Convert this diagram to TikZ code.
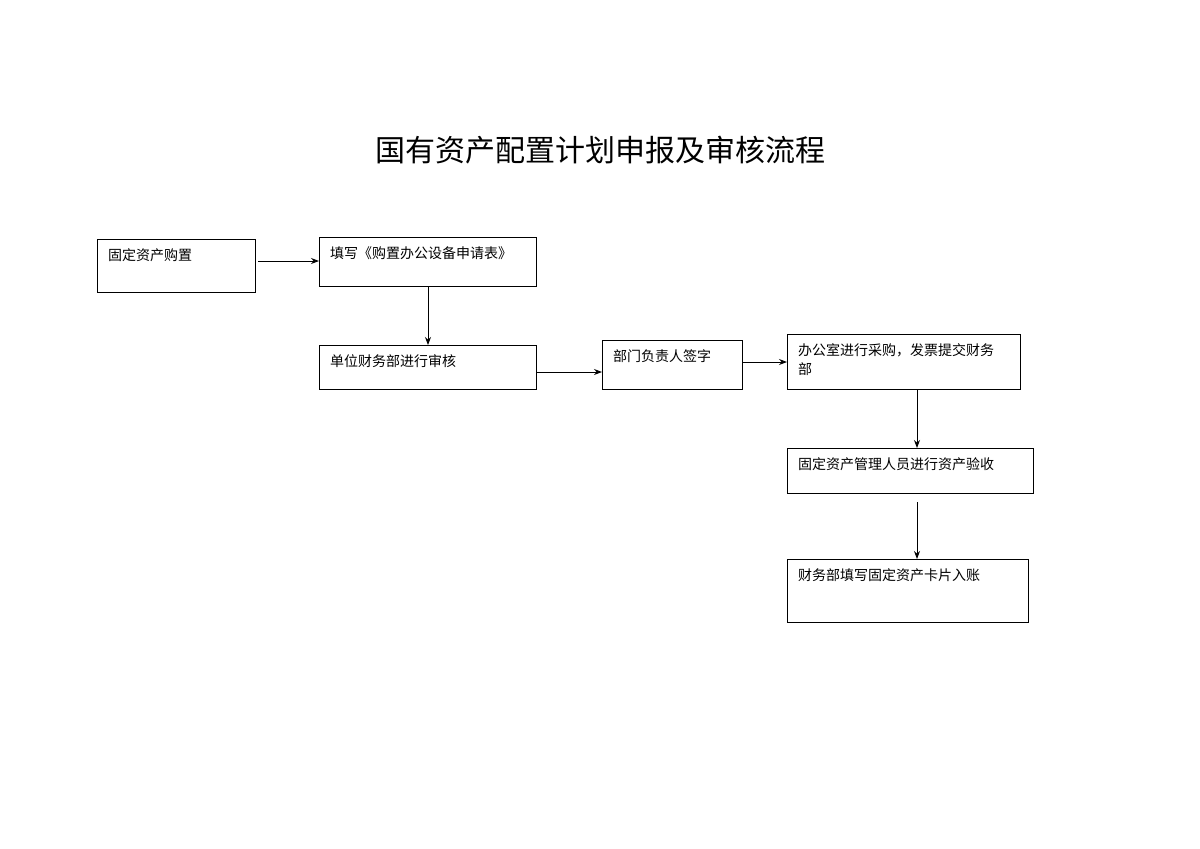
\documentclass[tikz,border=0pt]{standalone}
\usepackage{fontspec}
\setmainfont{Noto Sans CJK SC}
\usetikzlibrary{arrows.meta}
\begin{document}
\begin{tikzpicture}[x=1pt,y=-1pt,
  box/.style={draw,line width=0.9pt,inner sep=0pt,anchor=north west},
  txt/.style={anchor=north west,inner sep=0pt,font=\fontsize{14}{19}\selectfont,align=left},
  arr/.style={-{Stealth[length=8pt,width=6pt]},line width=0.9pt}]
\useasboundingbox (0,0) rectangle (1200,849);
\node[font=\fontsize{30}{34}\selectfont] (title) at (600,150) {国有资产配置计划申报及审核流程};
\newcommand\bx[6]{\node[box,minimum width=#4-#2,minimum height=#5-#3] (#1) at (#2,#3) {};
  \node[txt] (#1t) at (#2+11,#3+9) {#6};}
\bx{a}{97}{239}{255}{292}{固定资产购置}
\bx{b}{319}{237}{536}{286}{填写《购置办公设备申请表》}
\bx{c}{319}{345}{536}{389}{单位财务部进行审核}
\bx{d}{602}{340}{742}{389}{部门负责人签字}
\bx{e}{787}{334}{1020}{389}{办公室进行采购，发票提交财务\\部}
\bx{f}{787}{448}{1033}{493}{固定资产管理人员进行资产验收}
\bx{g}{787}{559}{1028}{622}{财务部填写固定资产卡片入账}
\coordinate (a1) at (258,261); \coordinate (b1) at (319,261);
\draw[arr] (a1) -- (b1);
\draw[arr] (b.south -| 428,0) -- (c.north -| 428,0);
\draw[arr] (c.east |- 0,372) -- (d.west |- 0,372);
\draw[arr] (d.east |- 0,362) -- (e.west |- 0,362);
\draw[arr] (e.south -| 917,0) -- (f.north -| 917,0);
\coordinate (f1) at (917,502);
\draw[arr] (f1) -- (g.north -| 917,0);
\end{tikzpicture}
\end{document}
